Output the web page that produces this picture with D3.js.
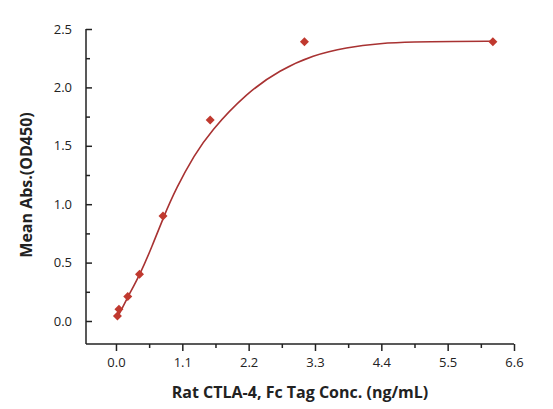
<!DOCTYPE html>
<html><head><meta charset="utf-8">
<script src="https://cdn.jsdelivr.net/npm/d3@7"></script>
<style>body{margin:0;background:#fff}text{font-family:"Open Sans",sans-serif}</style>
</head><body><div id="chart"></div>
<script>
var width = 553, height = 409;

// measured points
var conc = [0.024, 0.049, 0.195, 0.39, 0.78, 1.5625, 3.125, 6.25];
var absorb = [0.043, 0.10, 0.21, 0.40, 0.90, 1.72, 2.39, 2.39];
// fitted curve
var fitX = [0.024, 0.2, 0.4, 0.6, 0.78, 1.0, 1.3, 1.56, 2.17, 2.72, 3.27, 3.82, 4.38, 4.93, 5.6, 6.25];
var fitY = [0.03, 0.21, 0.40, 0.64, 0.88, 1.14, 1.42, 1.62, 1.955, 2.149, 2.277, 2.343, 2.378, 2.39, 2.393, 2.395];
var xTicks = [0, 1.1, 2.2, 3.3, 4.4, 5.5, 6.6];
var yTicks = [0, 0.5, 1.0, 1.5, 2.0, 2.5];

var svg = d3.select("#chart").append("svg")
    .attr("width", width)
    .attr("height", height)

var x = d3.scaleLinear().domain([-0.497, 6.6]).range([86, 514]);
var y = d3.scaleLinear().domain([0, 2.5]).range([321, 29]);
var yBottom = 344;

// axes
var xAxis = svg.append("g").attr("transform", "translate(0," + yBottom + ")")
    .call(d3.axisBottom(x).tickValues(d3.range(0, 6.61, 0.55)).tickSize(6).tickFormat(""));
xAxis.selectAll(".tick line").attr("y2", function(d, i){ return i % 2 ? 4 : 7 });
xAxis.select(".domain").attr("d", "M86,0H514");
svg.append("g").attr("transform", "translate(0," + yBottom + ")")
    .call(d3.axisBottom(x).tickValues(xTicks).tickSize(0).tickPadding(14).tickFormat(d3.format(".1f")))
    .call(function(g){ g.select(".domain").remove() })
    .selectAll("text").style("font-size", "13px").attr("fill", "#222");

var yAxis = svg.append("g").attr("transform", "translate(86,0)")
    .call(d3.axisLeft(y).tickValues(d3.range(0, 2.51, 0.25)).tickFormat(""));
yAxis.selectAll(".tick line").attr("x2", function(d, i){ return i % 2 ? 4 : 6 });
yAxis.select(".domain").attr("d", "M0," + yBottom + "V29");
svg.append("g").attr("transform", "translate(86,0)")
    .call(d3.axisLeft(y).tickValues(yTicks).tickSize(0).tickPadding(14).tickFormat(d3.format(".1f")))
    .call(function(g){ g.select(".domain").remove() })
    .selectAll("text").style("font-size", "13px").attr("fill", "#222");

svg.selectAll(".domain, .tick line").attr("stroke", "#222").attr("stroke-width", 1.5);

// fit line
svg.append("path")
    .datum(d3.zip(fitX, fitY))
    .attr("fill", "none")
    .attr("stroke", "#a83232")
    .attr("stroke-width", 1.6)
    .attr("d", d3.line().x(function(d){return x(d[0])}).y(function(d){return y(d[1])}).curve(d3.curveBasis));

// points
svg.selectAll("path.pt")
    .data(d3.zip(conc, absorb))
    .enter().append("path")
    .attr("class", "pt")
    .attr("transform", function(d){return "translate(" + x(d[0]) + "," + y(d[1]) + ")"})
    .attr("d", "M0,-4.5L4.5,0L0,4.5L-4.5,0Z")
    .attr("fill", "#c0392f");

svg.append("text")
    .attr("x", 300).attr("y", 398)
    .attr("text-anchor", "middle")
    .style("font-size", "16px").style("font-weight", "bold").attr("fill", "#222")
    .text("Rat CTLA-4, Fc Tag Conc. (ng/mL)");
svg.append("text")
    .attr("transform", "translate(32,185) rotate(-90)")
    .attr("text-anchor", "middle")
    .style("font-size", "16px").style("font-weight", "bold").attr("fill", "#222")
    .text("Mean Abs.(OD450)");
</script></body></html>
